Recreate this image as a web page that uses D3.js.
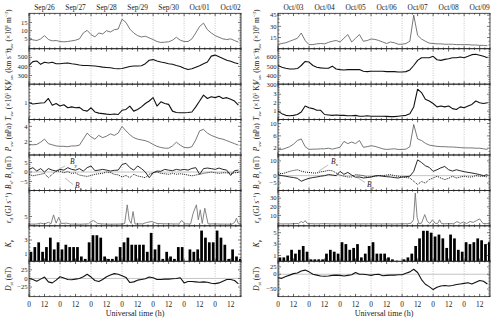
<!DOCTYPE html>
<html>
<head>
<meta charset="utf-8">
<script src="https://cdn.jsdelivr.net/npm/d3@7"></script>
<style>
  html, body { margin: 0; padding: 0; background: #fff; }
  svg text, svg tspan { font-family: "Liberation Serif", "DejaVu Serif", serif; fill: #222; }
</style>
</head>
<body>
<svg id="chart" width="500" height="318"></svg>
<script>
// ---- data: series sampled every 3 h from 00 UT of the first day ----
const STEP_H = 3;
const SPAN_H = 164;

const leftDays = ['Sep/26', 'Sep/27', 'Sep/28', 'Sep/29', 'Sep/30', 'Oct/01', 'Oct/02'];
const rightDays = ['Oct/03', 'Oct/04', 'Oct/05', 'Oct/06', 'Oct/07', 'Oct/08', 'Oct/09'];
const hourLabels = ['0', '12'];

const leftNsw = [5, 4.4, 4, 5, 7, 4.6, 3.8, 4, 3.4, 3.2, 3.4, 3.8, 4.2, 5, 8.6, 10.2, 7.6, 6.2, 8.6, 8,
  10, 9.2, 10.6, 11, 17, 15, 11, 8.6, 7, 6.2, 6.6, 5.6, 4.6, 3.4, 2.8, 3, 3.2, 4.2, 6, 4.2,
  3.4, 3.4, 5, 8.6, 12.6, 14.6, 10.6, 8.6, 7, 6, 5, 4.6, 5, 4, 3];
const leftVsw = [411, 453, 460, 423, 445, 438, 445, 430, 430, 434, 438, 430, 423, 415, 411, 411, 408, 404, 400, 392,
  389, 385, 377, 374, 377, 389, 400, 404, 404, 408, 430, 468, 475, 460, 449, 441, 430, 423, 411, 400,
  381, 366, 374, 392, 408, 430, 449, 513, 524, 505, 487, 468, 457, 441, 430];
const leftTsw = [1.0, 0.92, 0.95, 0.98, 1.0, 1.25, 0.85, 0.95, 0.8, 0.88, 0.7, 0.75, 0.7, 0.72, 0.55, 0.5, 0.7, 0.45, 0.38, 0.35,
  0.32, 0.3, 0.33, 0.3, 0.55, 0.6, 0.8, 0.5, 0.6, 0.75, 0.95, 1.1, 1.3, 0.8, 1.05, 0.95, 0.9, 0.5, 0.42, 0.4,
  0.4, 0.42, 0.45, 0.75, 1.1, 1.45, 1.25, 1.35, 1.3, 1.38, 1.25, 1.3, 1.2, 1.1, 0.85];
const leftPsw = [1.6, 1.55, 1.6, 1.9, 2.3, 1.7, 1.55, 1.4, 1.35, 1.35, 1.3, 1.4, 1.4, 1.5, 2.3, 3.1, 2.6, 2.3, 2.8, 2.5,
  2.7, 3.0, 2.8, 3.1, 4.0, 3.4, 2.9, 2.5, 2.3, 2.2, 2.1, 1.9, 1.6, 1.35, 1.2, 1.1, 1.1, 1.4, 1.9, 1.5,
  1.2, 1.15, 1.3, 2.2, 3.4, 3.6, 3.1, 2.8, 2.6, 2.4, 2.3, 2.1, 1.9, 1.7, 1.5];
const leftBx = [-1.2, -2, -1.6, -1.2, -0.7, -3, -1.2, 0.5, 0.5, -0.4, 0.3, -0.7, -0.5, -1.6, -2, -2.3, -1.8, -1.2, -0.9, -0.7,
  0, -0.3, -1.2, -1.5, -2.6, -1.8, -3, -1.2, -2.1, -2.5, -3, -1.2, -0.4, 0, -0.7, -0.9, -1.2, -0.7, -1.2, -0.9,
  -1.2, -1.6, -2, -1.6, -1.2, -0.7, -0.4, 0, -0.4, -0.7, -0.4, -0.4, -0.7, -0.4, -0.2];
const leftBy = [1.4, 2.3, 0.5, 1.8, 0, 1.8, 1, 0.5, 1.4, 1, 2.3, 1.4, 1, 1.8, 0.5, 2.3, 3.2, 0.7, 1, 1.4,
  1, 0.5, 0.9, 1, 4, 4.6, 2.3, 1, 3.2, 1.8, 0, -3, -0.4, 0.5, 0.4, 1.4, 1, 0.7, 1.4, 1,
  1.4, 1, 1.9, 2.3, -1.2, 1.8, 2.1, 1.8, 1.4, 2.1, 1.4, 1, -1.8, 0.7, 1];
const leftEpsHours = [0, 6, 9, 12, 15, 17, 19, 21, 23, 25, 29, 32, 40, 46, 48, 50, 53, 60, 72, 74, 76, 77.5, 79, 80.5, 82,
  88, 91, 95, 99, 106, 116, 118, 121, 125, 127, 129.5, 131, 132.5, 134, 136, 138.5, 148, 157, 159, 160.5, 162, 164];
const leftEps = [0.4, 0.5, 1, 0.5, 1.5, 0.6, 6, 1, 4.5, 0.8, 1, 0.5, 0.4, 0.6, 2, 2.6, 0.8, 0.4, 0.5, 0.8, 12, 3, 0.8, 8, 0.5,
  0.6, 1.4, 2, 0.8, 0.6, 0.5, 2.6, 0.6, 0.5, 7, 12, 3, 9, 0.8, 10, 0.6, 0.5, 0.4, 1.4, 4, 0.6, 0.5];
const leftKp = [1.33, 2, 2.67, 1.33, 2, 3.33, 1.67, 2.67, 1.67, 2.33, 2, 2, 2, 0.67, 0.33, 2.67, 3.67, 3.67, 3.33, 0.67,
  0.33, 0.33, 0.67, 2, 2.67, 3.33, 2.33, 2.33, 2.33, 2.33, 1.33, 4, 1.67, 2.33, 0.33, 1.33, 0.67, 0.33, 2, 2,
  0, 1.67, 1.33, 1.67, 4.33, 3.33, 2.67, 2.67, 4.33, 3.33, 2.33, 0.33, 1.67, 0.67, 0.33];
const leftDst = [0, -3, -8, -2, 4, -10, -13, -5, 5, 1, -3, -4, -2, 0, 5, 12, 4, -6, -9, -3,
  5, 10, 14, 12, 8, 3, -12, -10, -5, -3, -1, 4, 2, -3, -3, -2, -2, -1, 0, 2,
  -13, -9, -9, -10, -11, -10, -11, -14, -15, -13, -8, -3, -3, -6, -16];

const rightNsw = [6, 7, 8, 10, 12, 14, 21, 11, 5.5, 5.5, 6.5, 7, 6.5, 8.5, 10, 11, 9, 14, 19, 9,
  14, 19, 10, 11, 13, 12.5, 11, 9, 7, 9, 8, 6, 6, 7, 10, 45, 18, 13, 10, 7.5,
  7, 6.5, 6.5, 6, 6, 6, 5.5, 5.5, 5.5, 5.5, 5, 5, 4.5, 4.5, 4];
const rightVsw = [511, 493, 482, 474, 474, 478, 511, 555, 548, 511, 493, 485, 482, 482, 504, 474, 467, 463, 467, 467,
  467, 467, 449, 445, 449, 449, 449, 449, 445, 445, 445, 441, 441, 445, 463, 511, 566, 595, 595, 595,
  610, 573, 566, 577, 584, 595, 595, 602, 595, 610, 628, 632, 621, 610, 595];
const rightTsw = [1.0, 0.7, 0.5, 0.45, 0.5, 0.6, 0.9, 1.6, 1.4, 1.3, 1.1, 1.1, 0.6, 0.55, 0.5, 0.55, 0.5, 0.5, 0.45, 0.45,
  0.5, 0.4, 0.4, 0.45, 0.4, 0.4, 0.4, 0.4, 0.38, 0.35, 0.35, 0.4, 0.45, 0.5, 0.7, 1.5, 3.6, 3.2, 2.4, 2.2,
  1.9, 1.5, 1.6, 1.5, 1.6, 1.3, 1.2, 1.5, 1.4, 1.6, 1.8, 2.2, 2.0, 1.9, 2.0];
const rightPsw = [1.5, 1.6, 2.0, 2.5, 3.3, 4.5, 5.0, 2.5, 1.6, 1.7, 1.7, 1.8, 1.8, 2.0, 1.7, 2.0, 2.3, 4.2, 3.5, 4.0,
  3.5, 4.5, 2.3, 2.5, 2.8, 2.6, 2.2, 1.8, 1.6, 1.7, 1.8, 1.6, 1.6, 1.7, 2.5, 9.7, 5.0, 4.5, 3.6, 3.0,
  2.8, 2.6, 2.5, 2.5, 2.4, 2.4, 2.3, 2.2, 2.1, 2.1, 2.1, 2.0, 2.0, 1.8, 1.6];
const rightBx = [1.8, 1.3, 2, 2.9, 3.5, 4, 3, 2.4, 2.2, 1.8, 1.8, 2.6, 2.9, 3.6, 3.3, 1.8, 0.4, -0.4, -0.9, -0.9,
  0.7, 0.4, 0, -0.9, -0.9, -0.4, 0, 0, 0.4, 0.7, 0, -0.4, -0.9, -1.3, -1.6, -3.8, -6, -4, -5, -2.7,
  -1.6, -0.4, -1.6, -2.7, -1.8, -0.4, -1.6, -0.9, -0.4, -0.9, -0.9, 0, -0.4, -0.4, -0.9];
const rightBy = [0.7, 0, -0.4, -0.9, -1.3, -1.8, -3.8, -2.7, -1.8, -1.3, -0.9, -0.4, 0, 0.7, 0.4, 0, 2.9, 0.9, 2.2, 0.4,
  -1.1, -0.9, -1.6, -1.3, -0.9, -0.2, 0, -0.4, -0.7, -0.9, -1.3, -1.6, -0.9, -0.7, -0.4, 2.9, 10.7, 8.9, 6.7, 5.6,
  2.9, 4, 5.3, 6.2, 4, 3.1, 4, 3.3, 2.7, 2.2, 1.8, 1.3, 0.7, 0, 0.7];
const rightEpsHours = [0, 10, 16, 18, 19.5, 21, 22.5, 24.5, 30, 35, 50, 70, 90, 100, 103, 104.8, 106.2, 107.6, 109, 111,
  113.5, 115.5, 117.5, 119.5, 121.5, 123.5, 125, 126.5, 129, 136, 138.5, 141, 143.5, 146, 148.5, 151, 153.5, 156, 158.5, 161, 164];
const rightEps = [0.2, 0.3, 0.8, 3, 1.5, 4, 1, 0.5, 0.3, 0.5, 0.2, 0.3, 0.2, 0.4, 1, 5, 36, 8, 0.5, 1,
  11, 3, 0.8, 5, 1, 0.6, 5, 0.6, 0.4, 0.5, 3, 0.8, 2.5, 0.6, 3, 2, 4, 6, 0.8, 0.5, 0.6];
const rightKp = [0.67, 0.67, 1, 2, 1.33, 2, 2.67, 1.67, 0.33, 0.33, 0.33, 0.33, 1.33, 2, 1.67, 1.33, 3.33, 3, 2, 2.33,
  3, 0.67, 1.33, 2.67, 3.33, 1.33, 1.33, 1.33, 0.67, 0.33, 0, 0, 0.33, 0.67, 1.33, 2.67, 4, 5.33, 5.33, 5,
  4.33, 4.67, 4, 2.33, 4.67, 4, 2, 1.67, 3.33, 3, 3.33, 4, 3.67, 3, 3.33];
const rightDst = [-12, -14, -8, -3, 2, 4, 11, 14, 8, 0, -3, -6, -7, -6, -4, -3, -4, -6, -4, -2,
  6, 0, 0, -2, -4, -1, 0, -5, -4, -3, -3, -2, -2, 3, 8, 17, 6, -18, -34, -42,
  -52, -44, -40, -38, -40, -38, -35, -33, -31, -29, -33, -27, -21, -24, -33];

// ---- axis labels ----
const LABELS = {
  nsw: [['n', 'i'], ['sw', 'sub'], [' (×10'], ['6', 'sup'], [' m'], ['−3', 'sup'], [')']],
  vsw: [['V', 'i'], ['sw', 'sub'], [' (km s'], ['−1', 'sup'], [')']],
  tsw: [['T', 'i'], ['sw', 'sub'], [' (×10'], ['5', 'sup'], [' K)']],
  psw: [['P', 'i'], ['sw', 'sub'], [' (nPa)']],
  b:   [['B', 'i'], ['x', 'sub'], [', '], ['B', 'i'], ['y', 'sub'], [' (nT)']],
  eps: [['ε', 'i'], ['d', 'sub'], [' (GJ s'], ['−1', 'sup'], [')']],
  kp:  [['K', 'i'], ['p', 'sub']],
  dst: [['D', 'i'], ['st', 'sub'], [' (nT)']]
};
const PANEL_KEYS = ['nsw', 'vsw', 'tsw', 'psw', 'b', 'eps', 'kp', 'dst'];

const SIDES = [
  {
    x0: 29, x1: 241, labelX: 11, days: leftDays,
    data: { nsw: leftNsw, vsw: leftVsw, tsw: leftTsw, psw: leftPsw, bx: leftBx, by: leftBy,
            epsH: leftEpsHours, eps: leftEps, kp: leftKp, dst: leftDst },
    domains: { nsw: [-1, 20.6], vsw: [206, 594], tsw: [0, 2.1], psw: [0.2, 4.9], b: [-9.7, 9],
               eps: [-0.6, 20.7], kp: [0, 5], dst: [-53, 50] },
    ticks: { nsw: [5, 10, 15], vsw: [300, 400, 500], tsw: [1], psw: [2, 4], b: [-5, 0, 5],
             eps: [5], kp: [1, 3], dst: [-25, 0, 25] },
    minor: { nsw: 1, vsw: 20, tsw: 0.2, psw: 0.5, b: 1, eps: 1, kp: 0.5, dst: 5 },
    notes: [
      { text: 'y', h: 31.7, v: 4, from: [27.8, 3.2], to: [21.4, 0.8] },
      { text: 'x', h: 35.6, v: -8.5, from: [34.3, -6.7], to: [27.8, -3.2] }
    ]
  },
  {
    x0: 278, x1: 490, labelX: 259, days: rightDays,
    data: { nsw: rightNsw, vsw: rightVsw, tsw: rightTsw, psw: rightPsw, bx: rightBx, by: rightBy,
            epsH: rightEpsHours, eps: rightEps, kp: rightKp, dst: rightDst },
    domains: { nsw: [0, 47.5], vsw: [310, 692], tsw: [0, 4.2], psw: [-0.2, 11.3], b: [-10, 14],
               eps: [-2, 39], kp: [0, 6.2], dst: [-76, 44] },
    ticks: { nsw: [15, 30, 45], vsw: [300, 400, 500, 600], tsw: [1, 2, 3], psw: [2, 6, 10], b: [-5, 0, 10],
             eps: [10, 20, 30], kp: [1, 3, 5], dst: [-50, 0, 25] },
    minor: { nsw: 5, vsw: 20, tsw: 0.2, psw: 1, b: 1, eps: 2, kp: 0.5, dst: 5 },
    notes: [
      { text: 'x', h: 41, v: 7.6, from: [38.9, 7.3], to: [31.2, 2.8] },
      { text: 'y', h: 68.8, v: -7.5, from: [67.3, -4.6], to: [60.9, -1] }
    ]
  }
];

const PANEL_TOP = 13.3;
const PANEL_H = 35.42;
const FONT = 7.4;
const TICK_FONT = 6.6;
const INK = '#222';

const svg = d3.select('#chart');

function richText(sel, parts, size) {
  let shift = 0;
  parts.forEach(([t, kind]) => {
    const target = kind === 'sub' ? size * 0.28 : kind === 'sup' ? -size * 0.38 : 0;
    const ts = sel.append('tspan').text(t).attr('dy', (target - shift).toFixed(2)).attr('fill', INK);
    shift = target;
    if (kind === 'sub' || kind === 'sup') ts.attr('font-size', (size * 0.68).toFixed(2));
    if (kind === 'i') ts.attr('font-style', 'italic');
  });
}

SIDES.forEach((side, si) => {
  const x = d3.scaleLinear().domain([0, SPAN_H]).range([side.x0, side.x1]);
  const g = svg.append('g');

  const dayStarts = d3.range(1, 7).map(d => d * 24);
  const minorH = d3.range(0, SPAN_H + 0.1, 4);

  PANEL_KEYS.forEach((key, k) => {
    const top = PANEL_TOP + k * PANEL_H;
    const bot = top + PANEL_H;
    const y = d3.scaleLinear().domain(side.domains[key]).range([bot, top]);
    const pg = g.append('g');

    const clipId = `clip-${si}-${k}`;
    pg.append('clipPath').attr('id', clipId)
      .append('rect').attr('x', side.x0).attr('y', top).attr('width', side.x1 - side.x0).attr('height', PANEL_H);

    // day separators
    pg.selectAll('.day').data(dayStarts).join('line')
      .attr('x1', d => x(d)).attr('x2', d => x(d)).attr('y1', top).attr('y2', bot)
      .attr('stroke', '#b8b8b8').attr('stroke-width', 0.8).attr('stroke-dasharray', '1,1.4');

    const plot = pg.append('g').attr('clip-path', `url(#${clipId})`);

    if (key === 'b' || key === 'dst') {
      plot.append('line').attr('x1', side.x0).attr('x2', side.x1)
        .attr('y1', y(0)).attr('y2', y(0)).attr('stroke', '#c4c4c4').attr('stroke-width', 1);
    }

    const lineOf = vals => d3.line().x((d, i) => x(i * STEP_H)).y(d => y(d))(vals);

    if (key === 'b') {
      plot.append('path').attr('d', lineOf(side.data.bx)).attr('fill', 'none')
        .attr('stroke', '#111').attr('stroke-width', 1).attr('stroke-dasharray', '1,1');
      plot.append('path').attr('d', lineOf(side.data.by)).attr('fill', 'none')
        .attr('stroke', '#111').attr('stroke-width', 0.9);
      side.notes.forEach(n => {
        pg.append('line').attr('x1', x(n.from[0])).attr('y1', y(n.from[1]))
          .attr('x2', x(n.to[0])).attr('y2', y(n.to[1])).attr('stroke', '#777').attr('stroke-width', 0.5);
        const t = pg.append('text').attr('x', x(n.h)).attr('y', y(n.v)).attr('font-size', FONT).attr('fill', INK);
        richText(t, [['B', 'i'], [n.text, 'sub']], FONT);
      });
    } else if (key === 'eps') {
      const line = d3.line().x((d, i) => x(side.data.epsH[i])).y(d => y(d));
      plot.append('path').attr('d', line(side.data.eps)).attr('fill', 'none')
        .attr('stroke', '#777').attr('stroke-width', 0.9);
    } else if (key === 'kp') {
      plot.selectAll('rect.kp').data(side.data.kp).join('rect')
        .attr('x', (d, i) => x(i * STEP_H + 0.45))
        .attr('width', x(2.1) - x(0))
        .attr('y', d => y(d))
        .attr('height', d => bot - y(d))
        .attr('fill', '#000');
    } else {
      const grey = key === 'nsw' || key === 'psw';
      plot.append('path').attr('d', lineOf(side.data[key])).attr('fill', 'none')
        .attr('stroke', grey ? '#555' : '#111').attr('stroke-width', grey ? 0.8 : 1.1)
        .attr('stroke-linejoin', 'round');
    }

    // frame
    pg.append('rect').attr('x', side.x0).attr('y', top).attr('width', side.x1 - side.x0).attr('height', PANEL_H)
      .attr('fill', 'none').attr('stroke', '#222').attr('stroke-width', 0.8);

    // time ticks, inward on top and bottom edges
    const tickPath = [];
    minorH.forEach(h => {
      const len = h % 12 === 0 ? 2.8 : 1.3;
      tickPath.push(`M${x(h)},${top}v${len}`, `M${x(h)},${bot}v${-len}`);
    });
    pg.append('path').attr('d', tickPath.join('')).attr('stroke', '#222').attr('stroke-width', 0.7);

    // value ticks, inward on left and right
    const [d0, d1] = side.domains[key];
    const step = side.minor[key];
    const minorV = d3.range(Math.ceil(d0 / step) * step, d1, step);
    const vPath = [];
    minorV.forEach(v => {
      const major = side.ticks[key].some(t => Math.abs(t - v) < 1e-6);
      const len = major ? 3 : 1.5;
      vPath.push(`M${side.x0},${y(v)}h${len}`, `M${side.x1},${y(v)}h${-len}`);
    });
    pg.append('path').attr('d', vPath.join('')).attr('stroke', '#222').attr('stroke-width', 0.6);

    pg.selectAll('text.tick').data(side.ticks[key]).join('text')
      .attr('class', 'tick')
      .attr('x', side.x0 - 1.5).attr('y', d => y(d)).attr('dy', '0.33em')
      .attr('text-anchor', 'end').attr('font-size', TICK_FONT).attr('fill', INK)
      .text(d => String(d).replace('-', '−'));

    // rotated axis label
    const lab = pg.append('text')
      .attr('transform', `translate(${side.labelX},${(top + bot) / 2}) rotate(-90)`)
      .attr('text-anchor', 'middle').attr('dy', '0.35em').attr('font-size', FONT).attr('fill', INK);
    richText(lab, LABELS[key], FONT);
  });

  // date labels on top
  g.selectAll('text.date').data(side.days).join('text')
    .attr('class', 'date')
    .attr('x', (d, i) => x(i * 24 + 12)).attr('y', 9.5)
    .attr('text-anchor', 'middle').attr('font-size', FONT).attr('fill', INK).text(d => d);

  // hour labels on bottom
  const hourTicks = d3.range(0, SPAN_H, 12);
  g.selectAll('text.hour').data(hourTicks).join('text')
    .attr('class', 'hour')
    .attr('x', h => x(h)).attr('y', 306.5)
    .attr('text-anchor', 'middle').attr('font-size', FONT).attr('fill', INK)
    .text(h => hourLabels[(h / 12) % 2]);

  g.append('text').attr('x', (side.x0 + side.x1) / 2).attr('y', 315.5)
    .attr('text-anchor', 'middle').attr('font-size', 8).attr('fill', INK).text('Universal time (h)');
});
</script>
</body>
</html>
